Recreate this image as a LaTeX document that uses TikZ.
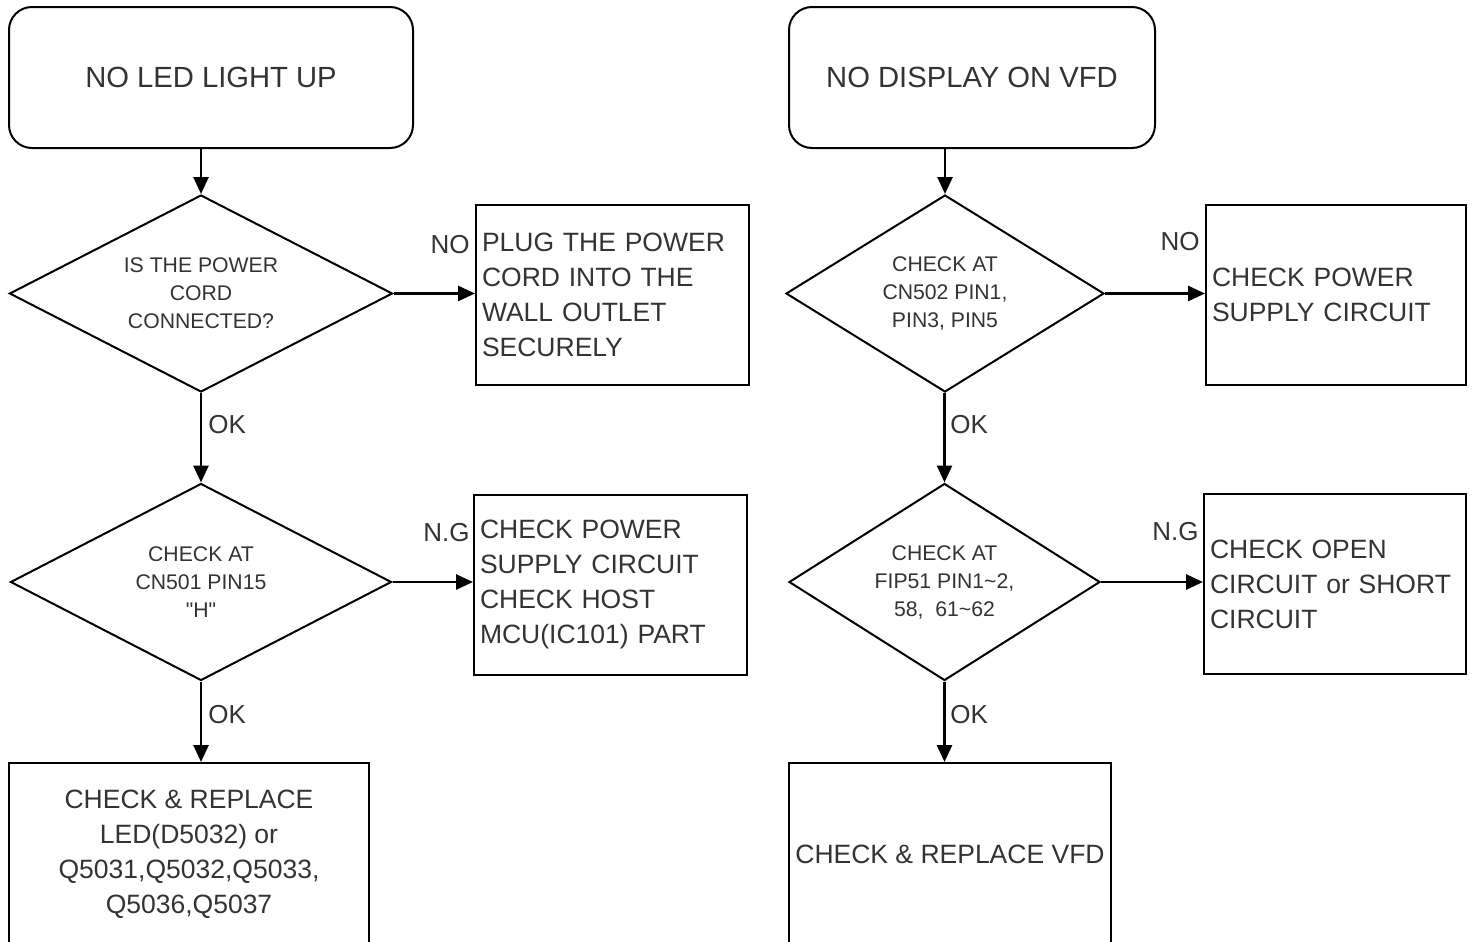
\documentclass[tikz,border=0pt]{standalone}
\usepackage{fontspec}
\setmainfont{Liberation Sans}[Ligatures=TeXOff]
\usetikzlibrary{shapes.geometric,arrows.meta}
\definecolor{inkgray}{RGB}{51,51,51}

\begin{document}
\begin{tikzpicture}[x=0.5pt, y=-0.5pt,
    startbox/.style={draw, rounded corners=11.5pt, line width=1pt, minimum width=#1,
        minimum height=70.5pt, inner sep=0pt, text=inkgray, font=\fontsize{14.6}{17}\selectfont},
    decision/.style={draw, diamond, aspect=2, line width=1pt, inner sep=0pt, minimum width=#1,
        minimum height=98.5pt, align=center, text=inkgray, font=\fontsize{10.6}{14}\selectfont},
    actbox/.style={draw, rectangle, line width=1pt, inner xsep=3pt, inner ysep=0pt,
        text width=#1, minimum height=90pt, align=left, text=inkgray,
        font=\fontsize{13.25}{17.5}\selectfont},
    endbox/.style={draw, rectangle, line width=1pt, inner sep=0pt, minimum width=#1,
        minimum height=91.5pt, align=center, text=inkgray, font=\fontsize{13.25}{17.5}\selectfont},
    flow/.style={-{Triangle[length=8.5pt, width=7.5pt]}, line width=1.4pt},
    lbl/.style={text=inkgray, inner sep=0pt, font=\fontsize{13}{15}\selectfont}]

    % Frame of the page
    \clip (0,0) rectangle (1474,942);

    % Left chart: no LED
    \node[startbox=202pt] (t1) at (211,77.5) {NO LED LIGHT UP};
    \node[decision=191.5pt] (d1) at (201,293.5) {IS THE POWER\\CORD\\CONNECTED?};
    \node[actbox=130.5pt] (b1) at (612.5,295) {PLUG THE POWER\\CORD INTO THE\\WALL OUTLET\\SECURELY};
    \node[decision=190.5pt] (d2) at (201,582) {CHECK AT\\CN501 PIN15\\"H"};
    \node[actbox=130.5pt] (b2) at (610.5,584.5) {CHECK POWER\\SUPPLY CIRCUIT\\CHECK HOST\\MCU(IC101) PART};
    \node[endbox=180pt] (b3) at (189,854.5) {CHECK \& REPLACE\\LED(D5032) or\\Q5031,Q5032,Q5033,\\Q5036,Q5037};

    % Right chart: no display
    \node[startbox=183pt] (t2) at (972,77.5) {NO DISPLAY ON VFD};
    \node[decision=159pt] (d3) at (945,293.5) {CHECK AT\\CN502 PIN1,\\PIN3, PIN5};
    \node[actbox=124pt] (b5) at (1336,295) {CHECK POWER\\SUPPLY CIRCUIT};
    \node[decision=155.5pt] (d4) at (944.5,582) {CHECK AT\\FIP51 PIN1\textasciitilde2,\\58,\ \ 61\textasciitilde62};
    \node[actbox=125pt] (b6) at (1335,584) {CHECK OPEN\\CIRCUIT or SHORT\\CIRCUIT};
    \node[endbox=161pt] (b4) at (950,854.5) {CHECK \& REPLACE VFD};

    % Connectors
    \draw[flow] (t1.south -| d1.north) -- (d1.north);
    \draw[flow] (d1.east) -- (d1.east -| b1.west);
    \draw[flow] (d1.south) -- (d2.north);
    \draw[flow] (d2.east) -- (d2.east -| b2.west);
    \draw[flow] (d2.south) -- (d2.south |- b3.north);

    \draw[flow] (t2.south -| d3.north) -- (d3.north);
    \draw[flow] (d3.east) -- (d3.east -| b5.west);
    \draw[flow] (d3.south -| d4.north) -- (d4.north);
    \draw[flow] (d4.east) -- (d4.east -| b6.west);
    \draw[flow] (d4.south) -- (d4.south |- b4.north);

    % Branch labels
    \node[lbl, anchor=base east] (no1) at (470,253) {NO};
    \node[lbl, anchor=base west] (ok1) at (208,433) {OK};
    \node[lbl, anchor=base east] (ng1) at (470,541) {N.G};
    \node[lbl, anchor=base west] (ok2) at (208,723) {OK};
    \node[lbl, anchor=base east] (no2) at (1200,250) {NO};
    \node[lbl, anchor=base west] (ok3) at (950,433) {OK};
    \node[lbl, anchor=base east] (ng2) at (1199,540) {N.G};
    \node[lbl, anchor=base west] (ok4) at (950,723) {OK};

\end{tikzpicture}
\end{document}
